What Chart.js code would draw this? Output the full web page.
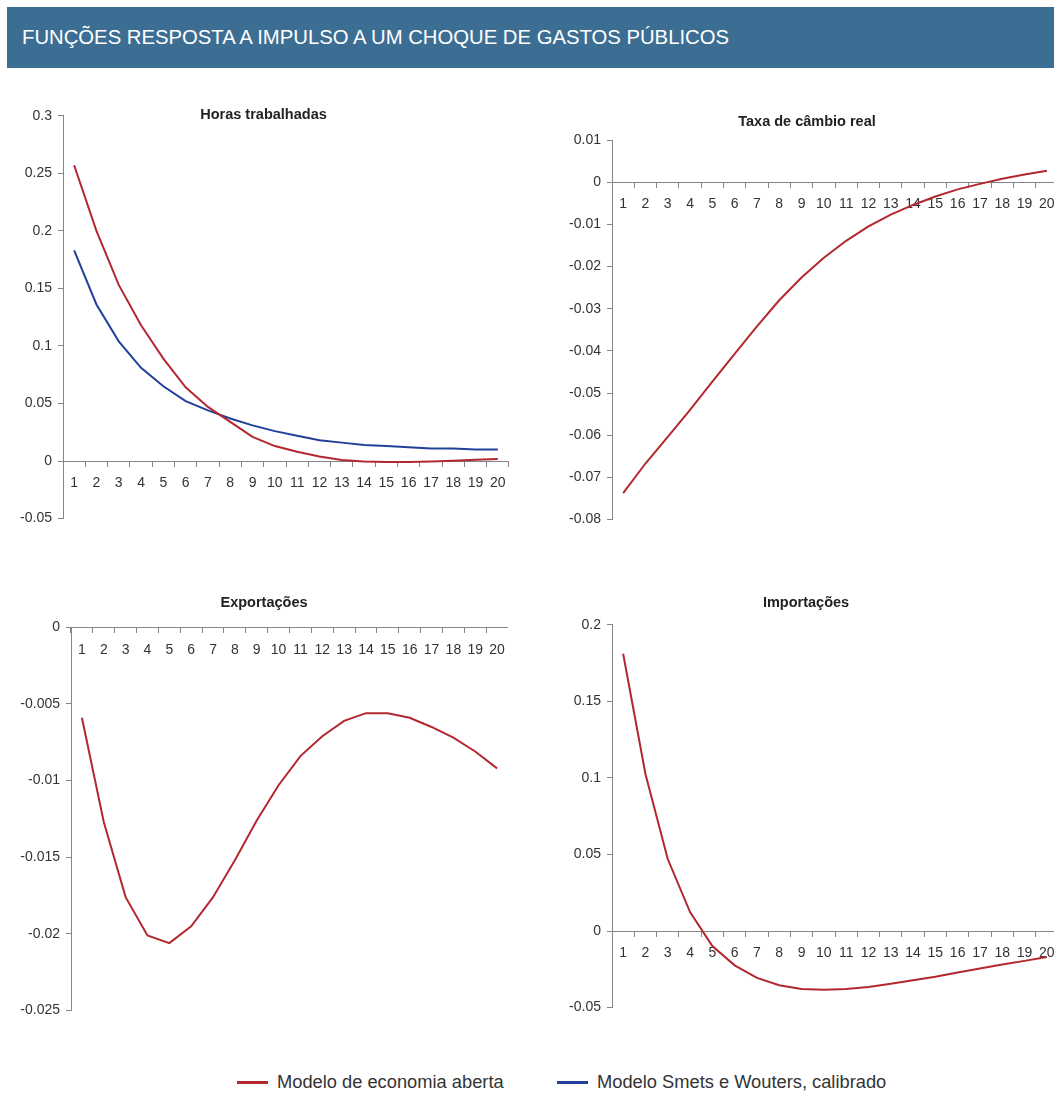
<!DOCTYPE html>
<html lang="pt">
<head>
<meta charset="utf-8">
<title>Funções resposta a impulso a um choque de gastos públicos</title>
<script src="https://cdn.jsdelivr.net/npm/chart.js@4.4.1/dist/chart.umd.min.js"></script>
<style>
  html, body { margin: 0; padding: 0; background: #fff; }
  body {
    width: 1054px; height: 1117px; position: relative; overflow: hidden;
    font-family: "Liberation Sans", Arial, sans-serif;
  }
  .cabecalho {
    position: absolute; left: 7px; top: 7px; width: 1047px; height: 61px;
    box-sizing: border-box; padding-left: 15px;
    display: flex; align-items: center;
    background: #3c6e93; color: #fff; font-size: 20.3px;
  }
  canvas { position: absolute; }
  .legenda-item {
    position: absolute; top: 1070px; height: 24px;
    display: flex; align-items: center;
    font-size: 18.3px; color: #333; white-space: nowrap;
  }
  .legenda-item .linha { display: inline-block; width: 31px; height: 3px; margin-right: 9px; }
</style>
</head>
<body>
<div class="cabecalho">FUNÇÕES RESPOSTA A IMPULSO A UM CHOQUE DE GASTOS PÚBLICOS</div>

<canvas id="horas"       width="491" height="437" style="left:18px;top:96px"></canvas>
<canvas id="cambio"      width="502" height="431" style="left:556px;top:103px"></canvas>
<canvas id="exportacoes" width="488" height="441" style="left:20px;top:584px"></canvas>
<canvas id="importacoes" width="504" height="438" style="left:554px;top:584px"></canvas>

<div id="legenda"></div>

<script>
// períodos (trimestres após o choque)
const periodos = ['1','2','3','4','5','6','7','8','9','10',
                  '11','12','13','14','15','16','17','18','19','20'];

// Horas trabalhadas
const horasAberta = [0.257, 0.200, 0.153, 0.118, 0.089, 0.064, 0.047, 0.034, 0.021, 0.013,
                     0.008, 0.004, 0.001, -0.0003, -0.0009, -0.0009, -0.0003, 0.0003, 0.0012, 0.0017];
const horasSW     = [0.183, 0.136, 0.104, 0.081, 0.065, 0.052, 0.044, 0.037, 0.031, 0.026,
                     0.022, 0.018, 0.016, 0.014, 0.013, 0.012, 0.011, 0.011, 0.010, 0.010];

// Taxa de câmbio real
const cambioAberta = [-0.0737, -0.0667, -0.0604, -0.0540, -0.0473, -0.0407, -0.0342, -0.0280, -0.0226, -0.0179,
                      -0.0139, -0.0105, -0.0077, -0.0054, -0.0034, -0.0017, -0.0004, 0.0008, 0.0018, 0.0027];

// Exportações
const exportAberta = [-0.0059, -0.0127, -0.0176, -0.0201, -0.0206, -0.0195, -0.0176, -0.0152, -0.0126, -0.0103,
                      -0.0084, -0.0071, -0.0061, -0.0056, -0.0056, -0.0059, -0.0065, -0.0072, -0.0081, -0.0092];

// Importações
const importAberta = [0.181, 0.1025, 0.047, 0.0124, -0.0098, -0.0224, -0.0306, -0.0354, -0.0378, -0.0384,
                      -0.0378, -0.0365, -0.0345, -0.0321, -0.0298, -0.0271, -0.0245, -0.0219, -0.0195, -0.0169];

const NOME_ABERTA = 'Modelo de economia aberta';
const NOME_SW     = 'Modelo Smets e Wouters, calibrado';

const COR_ABERTA = '#b3282f';
const COR_SW     = '#21409a';
const COR_EIXO   = '#858585';
const COR_TEXTO  = '#333333';
const FONTE      = '"Liberation Sans", Arial, sans-serif';

Chart.defaults.font.family = FONTE;

function serie(nome, valores, cor) {
  return {
    label: nome,
    data: valores,
    borderColor: cor,
    backgroundColor: cor,
    borderWidth: 2,
    pointRadius: 0,
    tension: 0,
    fill: false
  };
}

// larguraY: largura reservada ao eixo Y; tituloBaixo: espaço entre título e área do gráfico
function criarGrafico(canvasId, titulo, datasets, eixoY, larguraY, tituloBaixo) {
  const canvas = document.getElementById(canvasId);
  return new Chart(canvas, {
    type: 'line',
    data: { labels: periodos, datasets },
    options: {
      responsive: false,
      animation: false,
      layout: { padding: { top: 0, bottom: 10, left: 0, right: 0 } },
      plugins: {
        legend: { display: false },
        tooltip: { enabled: false },
        title: {
          display: true,
          text: titulo,
          color: '#222',
          font: { size: 14.5, weight: 'bold' },
          padding: { top: 10, bottom: tituloBaixo }
        }
      },
      scales: {
        x: {
          type: 'category',
          offset: true,
          position: { y: 0 },          // eixo horizontal cruza em zero
          afterFit: s => { s.height = 0; s.paddingLeft = 0; s.paddingRight = 0; },
          grid: {
            display: true, drawOnChartArea: false, drawTicks: true,
            tickLength: 5, offset: true, color: COR_EIXO
          },
          border: { display: true, color: COR_EIXO, width: 1 },
          ticks: {
            color: COR_TEXTO, font: { size: 14 }, padding: 9,
            maxRotation: 0, autoSkip: false
          }
        },
        y: {
          min: eixoY.min,
          max: eixoY.max,
          afterFit: s => { s.width = larguraY; },
          grid: {
            display: true, drawOnChartArea: false, drawTicks: true,
            tickLength: 5, color: COR_EIXO
          },
          border: { display: true, color: COR_EIXO, width: 1 },
          ticks: {
            stepSize: eixoY.passo,
            color: COR_TEXTO, font: { size: 14 }, padding: 6,
            callback: v => String(+v.toFixed(4))
          }
        }
      }
    }
  });
}

const graficoHoras = criarGrafico('horas', 'Horas trabalhadas',
  [serie(NOME_ABERTA, horasAberta, COR_ABERTA), serie(NOME_SW, horasSW, COR_SW)],
  { min: -0.05, max: 0.3, passo: 0.05 }, 45, -7.7);

criarGrafico('cambio', 'Taxa de câmbio real',
  [serie(NOME_ABERTA, cambioAberta, COR_ABERTA)],
  { min: -0.08, max: 0.01, passo: 0.01 }, 56, 9.6);

criarGrafico('exportacoes', 'Exportações',
  [serie(NOME_ABERTA, exportAberta, COR_ABERTA)],
  { min: -0.025, max: 0, passo: 0.005 }, 51, 15.9);

criarGrafico('importacoes', 'Importações',
  [serie(NOME_ABERTA, importAberta, COR_ABERTA)],
  { min: -0.05, max: 0.2, passo: 0.05 }, 58, 13.3);

// legenda comum, montada a partir das séries do primeiro gráfico
const posicoesLegenda = [237, 557];
const legenda = document.getElementById('legenda');
graficoHoras.data.datasets.forEach((ds, i) => {
  const item = document.createElement('div');
  item.className = 'legenda-item';
  item.style.left = posicoesLegenda[i] + 'px';
  const linha = document.createElement('span');
  linha.className = 'linha';
  linha.style.background = ds.borderColor;
  item.appendChild(linha);
  item.appendChild(document.createTextNode(ds.label));
  legenda.appendChild(item);
});
</script>
</body>
</html>
